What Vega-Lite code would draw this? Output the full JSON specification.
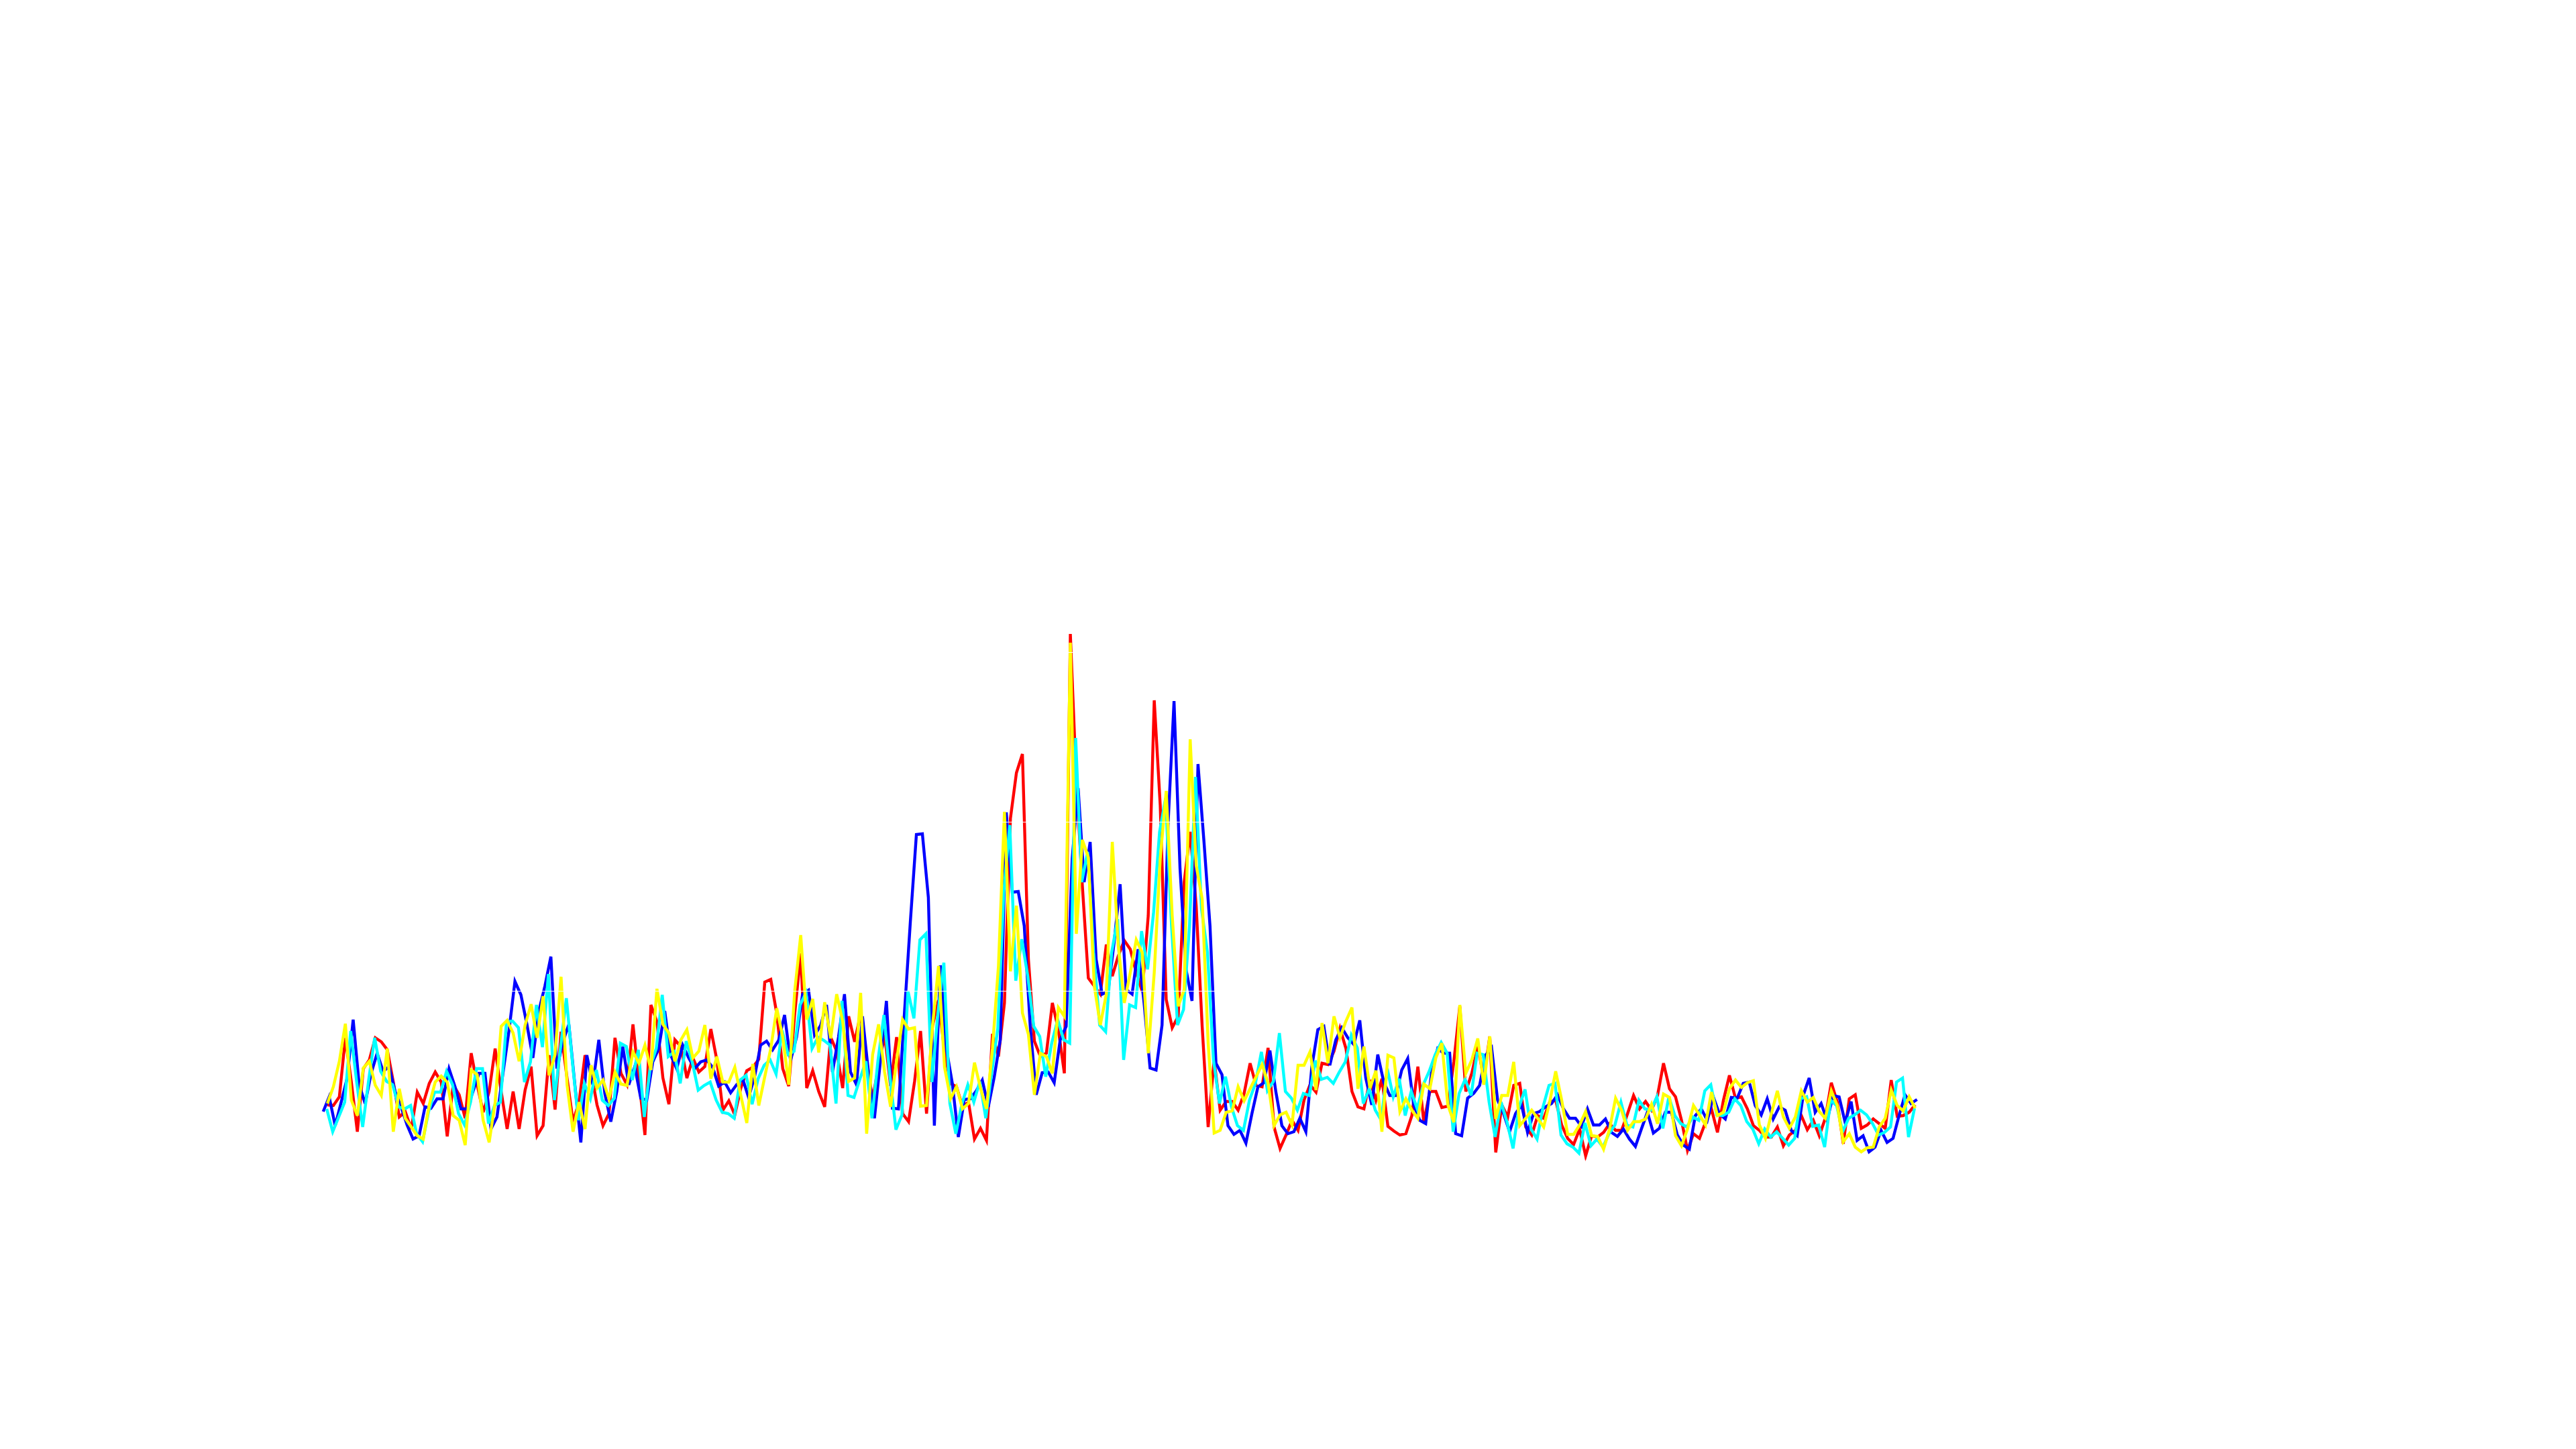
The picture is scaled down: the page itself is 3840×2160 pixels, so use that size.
{"$schema":"https://vega.github.io/schema/vega-lite/v6.json","width":3840,"height":2160,"padding":0,"autosize":{"type":"none"},"background":"white","config":{"view":{"stroke":null}},
"data":{"values":[
{"i":-1,"b":73},
{"i":0,"r":83,"b":95,"c":77,"y":85},{"i":1,"r":82,"b":52,"c":43,"y":110},{"i":2,"r":95,"b":87,"c":65,"y":148},{"i":3,"r":183,"b":123,"c":87,"y":204},{"i":4,"r":117,"b":210,"c":193,"y":90},{"i":5,"r":43,"b":113,"c":117,"y":67},{"i":6,"r":137,"b":85,"c":50,"y":138},{"i":7,"r":150,"b":130,"c":120,"y":148},{"i":8,"r":183,"b":160,"c":183,"y":112},{"i":9,"r":177,"b":133,"c":133,"y":97},
{"i":10,"r":165,"b":140,"c":118,"y":167},{"i":11,"r":117,"b":103,"c":113,"y":43},{"i":12,"r":65,"b":80,"c":80,"y":107},{"i":13,"r":73,"b":53,"c":77,"y":63},{"i":14,"r":47,"b":32,"c":82,"y":50},{"i":15,"r":102,"b":37,"c":40,"y":37},{"i":16,"r":85,"b":80,"c":28,"y":32},{"i":17,"r":115,"b":78,"c":73,"y":83},{"i":18,"r":132,"b":92,"c":102,"y":117},{"i":19,"r":117,"b":92,"c":102,"y":126},
{"i":20,"r":36,"b":137,"c":133,"y":117},{"i":21,"r":113,"b":110,"c":113,"y":67},{"i":22,"r":98,"b":77,"c":70,"y":60},{"i":23,"r":63,"b":77,"c":53,"y":23},{"i":24,"r":160,"b":103,"c":87,"y":135},{"i":25,"r":113,"b":130,"c":137,"y":128},{"i":26,"r":72,"b":130,"c":137,"y":60},{"i":27,"r":103,"b":47,"c":55,"y":27},{"i":28,"r":167,"b":65,"c":82,"y":87},{"i":29,"r":103,"b":130,"c":87,"y":200},
{"i":30,"r":47,"b":193,"c":207,"y":209},{"i":31,"r":103,"b":267,"c":208,"y":190},{"i":32,"r":47,"b":247,"c":198,"y":148},{"i":33,"r":105,"b":203,"c":117,"y":202},{"i":34,"r":140,"b":153,"c":147,"y":233},{"i":35,"r":37,"b":223,"c":232,"y":183},{"i":36,"r":52,"b":260,"c":169,"y":245},{"i":37,"r":157,"b":304,"c":278,"y":127},{"i":38,"r":76,"b":137,"c":90,"y":158},{"i":39,"r":192,"b":177,"c":167,"y":274},
{"i":40,"r":123,"b":203,"c":242,"y":113},{"i":41,"r":58,"b":113,"c":147,"y":43},{"i":42,"r":87,"b":27,"c":60,"y":87},{"i":43,"r":157,"b":157,"c":115,"y":47},{"i":44,"r":133,"b":113,"c":92,"y":142},{"i":45,"r":83,"b":180,"c":135,"y":108},{"i":46,"r":52,"b":100,"c":90,"y":120},{"i":47,"r":70,"b":58,"c":82,"y":92},{"i":48,"r":183,"b":103,"c":93,"y":132},{"i":49,"r":130,"b":170,"c":175,"y":114},
{"i":50,"r":113,"b":113,"c":170,"y":112},{"i":51,"r":203,"b":140,"c":120,"y":162},{"i":52,"r":120,"b":93,"c":165,"y":145},{"i":53,"r":38,"b":90,"c":65,"y":172},{"i":54,"r":232,"b":147,"c":140,"y":135},{"i":55,"r":207,"b":167,"c":167,"y":256},{"i":56,"r":123,"b":223,"c":247,"y":203},{"i":57,"r":84,"b":157,"c":155,"y":190},{"i":58,"r":180,"b":137,"c":162,"y":148},{"i":59,"r":170,"b":172,"c":115,"y":180},
{"i":60,"r":123,"b":153,"c":178,"y":195},{"i":61,"r":153,"b":137,"c":147,"y":153},{"i":62,"r":132,"b":147,"c":105,"y":163},{"i":63,"r":140,"b":150,"c":112,"y":202},{"i":64,"r":196,"b":139,"c":117,"y":122},{"i":65,"r":150,"b":111,"c":90,"y":155},{"i":66,"r":75,"b":117,"c":72,"y":117},{"i":67,"r":89,"b":101,"c":70,"y":117},{"i":68,"r":68,"b":113,"c":63,"y":139},{"i":69,"r":108,"b":122,"c":120,"y":97},
{"i":70,"r":134,"b":94,"c":127,"y":56},{"i":71,"r":139,"b":125,"c":84,"y":144},{"i":72,"r":151,"b":172,"c":122,"y":82},{"i":73,"r":266,"b":178,"c":142,"y":125},{"i":74,"r":270,"b":165,"c":150,"y":167},{"i":75,"r":219,"b":179,"c":129,"y":227},{"i":76,"r":137,"b":217,"c":194,"y":184},{"i":77,"r":111,"b":149,"c":158,"y":113},{"i":78,"r":219,"b":184,"c":163,"y":253},{"i":79,"r":309,"b":248,"c":232,"y":336},
{"i":80,"r":108,"b":254,"c":250,"y":210},{"i":81,"r":134,"b":187,"c":167,"y":241},{"i":82,"r":103,"b":201,"c":184,"y":161},{"i":83,"r":80,"b":232,"c":179,"y":236},{"i":84,"r":184,"b":132,"c":172,"y":182},{"i":85,"r":163,"b":184,"c":85,"y":248},{"i":86,"r":108,"b":248,"c":238,"y":208},{"i":87,"r":215,"b":132,"c":97,"y":118},{"i":88,"r":177,"b":113,"c":94,"y":123},{"i":89,"r":219,"b":215,"c":122,"y":250},
{"i":90,"r":149,"b":132,"c":148,"y":40},{"i":91,"r":91,"b":63,"c":63,"y":158},{"i":92,"r":142,"b":149,"c":149,"y":203},{"i":93,"r":187,"b":238,"c":217,"y":132},{"i":94,"r":111,"b":78,"c":125,"y":80},{"i":95,"r":184,"b":77,"c":46,"y":149},{"i":96,"r":70,"b":219,"c":68,"y":210},{"i":97,"r":58,"b":357,"c":253,"y":196},{"i":98,"r":118,"b":486,"c":212,"y":198},{"i":99,"r":193,"b":487,"c":329,"y":81},
{"i":100,"r":70,"b":392,"c":338,"y":82},{"i":101,"r":201,"b":52,"c":117,"y":201},{"i":102,"r":239,"b":291,"c":219,"y":290},{"i":103,"r":163,"b":167,"c":295,"y":139},{"i":104,"r":115,"b":115,"c":85,"y":92},{"i":105,"r":110,"b":35,"c":40,"y":110},{"i":106,"r":80,"b":91,"c":84,"y":77},{"i":107,"r":87,"b":92,"c":113,"y":85},{"i":108,"r":32,"b":104,"c":87,"y":146},{"i":109,"r":48,"b":120,"c":118,"y":108},
{"i":110,"r":30,"b":80,"c":63,"y":77},{"i":111,"r":189,"b":125,"c":132,"y":167},{"i":112,"r":155,"b":180,"c":197,"y":290},{"i":113,"r":235,"b":519,"c":400,"y":520},{"i":114,"r":510,"b":400,"c":500,"y":282},{"i":115,"r":578,"b":401,"c":268,"y":380},{"i":116,"r":606,"b":350,"c":330,"y":220},{"i":117,"r":300,"b":200,"c":275,"y":188},{"i":118,"r":178,"b":98,"c":200,"y":98},{"i":119,"r":155,"b":131,"c":185,"y":160},
{"i":120,"r":160,"b":132,"c":125,"y":155},{"i":121,"r":235,"b":116,"c":175,"y":130},{"i":122,"r":195,"b":180,"c":210,"y":228},{"i":123,"r":130,"b":200,"c":180,"y":215},{"i":124,"r":785,"b":450,"c":175,"y":772},{"i":125,"r":565,"b":555,"c":630,"y":338},{"i":126,"r":410,"b":415,"c":415,"y":478},{"i":127,"r":272,"b":475,"c":460,"y":452},{"i":128,"r":260,"b":300,"c":310,"y":260},{"i":129,"r":248,"b":248,"c":202,"y":202},
{"i":130,"r":322,"b":252,"c":192,"y":248},{"i":131,"r":275,"b":325,"c":310,"y":475},{"i":132,"r":305,"b":412,"c":360,"y":320},{"i":133,"r":328,"b":255,"c":150,"y":235},{"i":134,"r":315,"b":248,"c":232,"y":280},{"i":135,"r":280,"b":315,"c":228,"y":329},{"i":136,"r":252,"b":235,"c":342,"y":310},{"i":137,"r":365,"b":138,"c":285,"y":160},{"i":138,"r":686,"b":135,"c":370,"y":280},{"i":139,"r":530,"b":202,"c":490,"y":450},
{"i":140,"r":240,"b":500,"c":540,"y":551},{"i":141,"r":198,"b":685,"c":350,"y":365},{"i":142,"r":215,"b":435,"c":202,"y":230},{"i":143,"r":415,"b":285,"c":225,"y":255},{"i":144,"r":490,"b":238,"c":350,"y":628},{"i":145,"r":380,"b":591,"c":572,"y":440},{"i":146,"r":200,"b":475,"c":375,"y":390},{"i":147,"r":50,"b":350,"c":310,"y":175},{"i":148,"r":150,"b":145,"c":150,"y":41},{"i":149,"r":75,"b":128,"c":85,"y":45},
{"i":150,"r":88,"b":52,"c":125,"y":72},{"i":151,"r":88,"b":39,"c":80,"y":74},{"i":152,"r":75,"b":45,"c":52,"y":110},{"i":153,"r":100,"b":26,"c":45,"y":89},{"i":154,"r":145,"b":70,"c":90,"y":107},{"i":155,"r":112,"b":110,"c":115,"y":125},{"i":156,"r":110,"b":116,"c":162,"y":143},{"i":157,"r":168,"b":164,"c":104,"y":116},{"i":158,"r":50,"b":102,"c":118,"y":52},{"i":159,"r":18,"b":52,"c":190,"y":68},
{"i":160,"r":38,"b":40,"c":103,"y":72},{"i":161,"r":60,"b":43,"c":93,"y":53},{"i":162,"r":45,"b":63,"c":75,"y":142},{"i":163,"r":90,"b":43,"c":100,"y":142},{"i":164,"r":113,"b":140,"c":97,"y":162},{"i":165,"r":102,"b":195,"c":149,"y":105},{"i":166,"r":145,"b":200,"c":121,"y":205},{"i":167,"r":143,"b":142,"c":124,"y":145},{"i":168,"r":163,"b":180,"c":115,"y":215},{"i":169,"r":197,"b":198,"c":132,"y":183},
{"i":170,"r":167,"b":183,"c":147,"y":208},{"i":171,"r":103,"b":173,"c":187,"y":228},{"i":172,"r":80,"b":209,"c":168,"y":107},{"i":173,"r":77,"b":123,"c":85,"y":170},{"i":174,"r":120,"b":83,"c":107,"y":108},{"i":175,"r":90,"b":158,"c":75,"y":134},{"i":176,"r":122,"b":117,"c":60,"y":43},{"i":177,"r":51,"b":97,"c":137,"y":157},{"i":178,"r":44,"b":97,"c":95,"y":153},{"i":179,"r":38,"b":135,"c":122,"y":73},
{"i":180,"r":40,"b":152,"c":67,"y":92},{"i":181,"r":67,"b":83,"c":103,"y":75},{"i":182,"r":140,"b":60,"c":77,"y":63},{"i":183,"r":57,"b":55,"c":113,"y":114},{"i":184,"r":103,"b":133,"c":133,"y":107},{"i":185,"r":103,"b":167,"c":158,"y":153},{"i":186,"r":79,"b":160,"c":176,"y":175},{"i":187,"r":81,"b":160,"c":160,"y":83},{"i":188,"r":147,"b":40,"c":43,"y":57},{"i":189,"r":230,"b":37,"c":100,"y":232},
{"i":190,"r":103,"b":93,"c":121,"y":130},{"i":191,"r":130,"b":100,"c":97,"y":150},{"i":192,"r":170,"b":112,"c":160,"y":182},{"i":193,"r":123,"b":157,"c":158,"y":113},{"i":194,"r":185,"b":168,"c":87,"y":185},{"i":195,"r":12,"b":90,"c":35,"y":62},{"i":196,"r":83,"b":70,"c":87,"y":97},{"i":197,"r":65,"b":43,"c":57,"y":97},{"i":198,"r":112,"b":70,"c":18,"y":147},{"i":199,"r":115,"b":83,"c":80,"y":52},
{"i":200,"r":50,"b":42,"c":106,"y":63},{"i":201,"r":38,"b":70,"c":47,"y":75},{"i":202,"r":67,"b":73,"c":32,"y":63},{"i":203,"r":63,"b":80,"c":80,"y":50},{"i":204,"r":87,"b":85,"c":112,"y":87},{"i":205,"r":90,"b":98,"c":115,"y":133},{"i":206,"r":53,"b":77,"c":38,"y":90},{"i":207,"r":33,"b":63,"c":25,"y":39},{"i":208,"r":24,"b":63,"c":20,"y":39},{"i":209,"r":47,"b":51,"c":11,"y":53},
{"i":210,"r":7,"b":77,"c":56,"y":73},{"i":211,"r":37,"b":53,"c":22,"y":37},{"i":212,"r":35,"b":53,"c":32,"y":36},{"i":213,"r":42,"b":62,"c":20,"y":17},{"i":214,"r":55,"b":42,"c":40,"y":47},{"i":215,"r":45,"b":36,"c":53,"y":93},{"i":216,"r":45,"b":47,"c":87,"y":75},{"i":217,"r":70,"b":32,"c":53,"y":45},{"i":218,"r":97,"b":21,"c":50,"y":58},{"i":219,"r":77,"b":47,"c":90,"y":58},
{"i":220,"r":88,"b":72,"c":77,"y":62},{"i":221,"r":75,"b":41,"c":75,"y":84},{"i":222,"r":97,"b":48,"c":95,"y":55},{"i":223,"r":145,"b":72,"c":48,"y":99},{"i":224,"r":107,"b":72,"c":95,"y":94},{"i":225,"r":95,"b":38,"c":67,"y":37},{"i":226,"r":60,"b":23,"c":55,"y":22},{"i":227,"r":15,"b":17,"c":50,"y":47},{"i":228,"r":40,"b":67,"c":65,"y":82},{"i":229,"r":33,"b":77,"c":60,"y":68},
{"i":230,"r":57,"b":60,"c":104,"y":53},{"i":231,"r":77,"b":95,"c":113,"y":102},{"i":232,"r":42,"b":70,"c":68,"y":67},{"i":233,"r":90,"b":62,"c":67,"y":72},{"i":234,"r":127,"b":94,"c":72,"y":107},{"i":235,"r":93,"b":93,"c":92,"y":120},{"i":236,"r":95,"b":115,"c":82,"y":109},{"i":237,"r":77,"b":117,"c":58,"y":116},{"i":238,"r":52,"b":82,"c":47,"y":119},{"i":239,"r":45,"b":68,"c":25,"y":53},
{"i":240,"r":35,"b":92,"c":47,"y":33},{"i":241,"r":35,"b":62,"c":35,"y":70},{"i":242,"r":50,"b":80,"c":43,"y":104},{"i":243,"r":22,"b":75,"c":33,"y":65},{"i":244,"r":38,"b":45,"c":23,"y":48},{"i":245,"r":45,"b":37,"c":33,"y":65},{"i":246,"r":67,"b":97,"c":92,"y":104},{"i":247,"r":46,"b":123,"c":95,"y":87},{"i":248,"r":60,"b":72,"c":51,"y":94},{"i":249,"r":37,"b":85,"c":53,"y":73},
{"i":250,"r":63,"b":60,"c":20,"y":63},{"i":251,"r":116,"b":97,"c":90,"y":104},{"i":252,"r":87,"b":95,"c":82,"y":82},{"i":253,"r":25,"b":57,"c":43,"y":28},{"i":254,"r":92,"b":88,"c":63,"y":40},{"i":255,"r":98,"b":30,"c":68,"y":20},{"i":256,"r":48,"b":37,"c":75,"y":13},{"i":257,"r":53,"b":13,"c":68,"y":19},{"i":258,"r":62,"b":20,"c":55,"y":20},{"i":259,"r":55,"b":45,"c":38,"y":50},
{"i":260,"r":48,"b":27,"c":42,"y":63},{"i":261,"r":120,"b":33,"c":50,"y":105},{"i":262,"r":66,"b":67,"c":117,"y":82},{"i":263,"r":67,"b":98,"c":123,"y":74},{"i":264,"r":72,"b":85,"c":35,"y":95},{"i":265,"r":83,"b":91,"c":78,"y":78}
]},
"resolve":{"scale":{"x":"independent"}},
"layer":[
{"mark":{"type":"line","color":"#ff0000","strokeWidth":4.4},"encoding":{"x":{"field":"i","type":"quantitative","axis":null,"scale":{"domain":[-54.64,375.29],"nice":false,"zero":false}},"y":{"field":"r","type":"quantitative","scale":{"domain":[-430,1730],"nice":false,"zero":false},"axis":{"values":[0,253,505,758],"grid":true,"gridColor":"#ffffff","gridWidth":1,"domain":false,"ticks":false,"labels":false,"title":null,"zindex":1}}}},
{"mark":{"type":"line","color":"#0000ff","strokeWidth":4.4},"encoding":{"x":{"field":"i","type":"quantitative","axis":null,"scale":{"domain":[-54.94,374.98],"nice":false,"zero":false}},"y":{"field":"b","type":"quantitative"}}},
{"mark":{"type":"line","color":"#00ffff","strokeWidth":4.4},"encoding":{"x":{"field":"i","type":"quantitative","axis":null,"scale":{"domain":[-54.53,375.4],"nice":false,"zero":false}},"y":{"field":"c","type":"quantitative"}}},
{"mark":{"type":"line","color":"#ffff00","strokeWidth":4.4},"encoding":{"x":{"field":"i","type":"quantitative","axis":null,"scale":{"domain":[-54.64,375.29],"nice":false,"zero":false}},"y":{"field":"y","type":"quantitative"}}}
]}
